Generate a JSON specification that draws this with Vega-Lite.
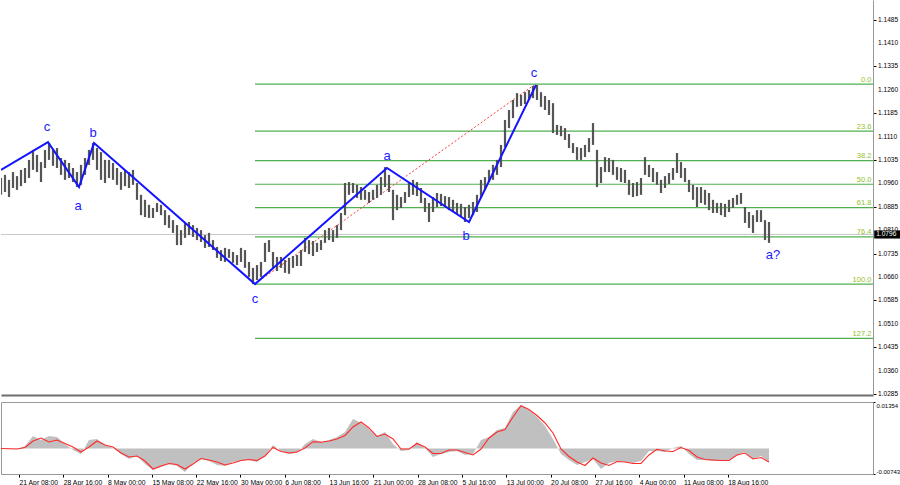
{
  "$schema": "https://vega.github.io/schema/vega-lite/v6.json",
  "padding": 0,
  "background": "white",
  "spacing": 3,
  "config": {
    "view": {"stroke": null},
    "font": "Liberation Sans",
    "axis": {"labelFont": "Liberation Sans", "labelFontSize": 6.8, "labelColor": "#000000", "grid": false, "tickColor": "#000000", "tickSize": 3, "domainColor": "#999999"}
  },
  "datasets": {
    "bars": [
      {"i":0,"h":1.0977,"l":1.0923},{"i":1,"h":1.0987,"l":1.0932},{"i":2,"h":1.0971,"l":1.0916},{"i":3,"h":1.0996,"l":1.0945},{"i":4,"h":1.0983,"l":1.0939},
      {"i":5,"h":1.1003,"l":1.0951},{"i":6,"h":1.1009,"l":1.0961},{"i":7,"h":1.1035,"l":1.0977},{"i":8,"h":1.1067,"l":1.1003},{"i":9,"h":1.1051,"l":1.0996},
      {"i":10,"h":1.1028,"l":1.0964},{"i":11,"h":1.1067,"l":1.1009},{"i":12,"h":1.1089,"l":1.1035},{"i":13,"h":1.1067,"l":1.1016},{"i":14,"h":1.1073,"l":1.1009},
      {"i":15,"h":1.1041,"l":1.0987},{"i":16,"h":1.1035,"l":1.0971},{"i":17,"h":1.1025,"l":1.0977},{"i":18,"h":1.1009,"l":1.0964},{"i":19,"h":1.0996,"l":1.0948},
      {"i":20,"h":1.1019,"l":1.0955},{"i":21,"h":1.1041,"l":1.0987},{"i":22,"h":1.1067,"l":1.1019},{"i":23,"h":1.1089,"l":1.1035},{"i":24,"h":1.1073,"l":1.1003},
      {"i":25,"h":1.1060,"l":1.0971},{"i":26,"h":1.1035,"l":1.0961},{"i":27,"h":1.1035,"l":1.0977},{"i":28,"h":1.1025,"l":1.0971},{"i":29,"h":1.1009,"l":1.0955},
      {"i":30,"h":1.0996,"l":1.0939},{"i":31,"h":1.1003,"l":1.0951},{"i":32,"h":1.0996,"l":1.0945},{"i":33,"h":1.1003,"l":1.0955},{"i":34,"h":1.0961,"l":1.0907},
      {"i":35,"h":1.0923,"l":1.0858},{"i":36,"h":1.0907,"l":1.0852},{"i":37,"h":1.0891,"l":1.0849},{"i":38,"h":1.0881,"l":1.0849},{"i":39,"h":1.0897,"l":1.0868},
      {"i":40,"h":1.0891,"l":1.0858},{"i":41,"h":1.0874,"l":1.0826},{"i":42,"h":1.0858,"l":1.0817},{"i":43,"h":1.0842,"l":1.0801},{"i":44,"h":1.0826,"l":1.0762},
      {"i":45,"h":1.0810,"l":1.0762},{"i":46,"h":1.0833,"l":1.0785},{"i":47,"h":1.0836,"l":1.0794},{"i":48,"h":1.0826,"l":1.0788},{"i":49,"h":1.0817,"l":1.0778},
      {"i":50,"h":1.0810,"l":1.0772},{"i":51,"h":1.0794,"l":1.0753},{"i":52,"h":1.0801,"l":1.0756},{"i":53,"h":1.0778,"l":1.0746},{"i":54,"h":1.0756,"l":1.0721},
      {"i":55,"h":1.0746,"l":1.0711},{"i":56,"h":1.0753,"l":1.0708},{"i":57,"h":1.0749,"l":1.0721},{"i":58,"h":1.0740,"l":1.0705},{"i":59,"h":1.0730,"l":1.0698},
      {"i":60,"h":1.0753,"l":1.0708},{"i":61,"h":1.0746,"l":1.0689},{"i":62,"h":1.0708,"l":1.0660},{"i":63,"h":1.0689,"l":1.0637},{"i":64,"h":1.0698,"l":1.0650},
      {"i":65,"h":1.0708,"l":1.0660},{"i":66,"h":1.0769,"l":1.0708},{"i":67,"h":1.0778,"l":1.0740},{"i":68,"h":1.0740,"l":1.0689},{"i":69,"h":1.0724,"l":1.0679},
      {"i":70,"h":1.0724,"l":1.0689},{"i":71,"h":1.0714,"l":1.0673},{"i":72,"h":1.0721,"l":1.0670},{"i":73,"h":1.0727,"l":1.0689},{"i":74,"h":1.0730,"l":1.0695},
      {"i":75,"h":1.0746,"l":1.0695},{"i":76,"h":1.0785,"l":1.0740},{"i":77,"h":1.0778,"l":1.0733},{"i":78,"h":1.0775,"l":1.0727},{"i":79,"h":1.0769,"l":1.0740},
      {"i":80,"h":1.0778,"l":1.0746},{"i":81,"h":1.0810,"l":1.0769},{"i":82,"h":1.0817,"l":1.0778},{"i":83,"h":1.0810,"l":1.0772},{"i":84,"h":1.0826,"l":1.0785},
      {"i":85,"h":1.0865,"l":1.0810},{"i":86,"h":1.0961,"l":1.0858},{"i":87,"h":1.0964,"l":1.0923},{"i":88,"h":1.0961,"l":1.0929},{"i":89,"h":1.0955,"l":1.0913},
      {"i":90,"h":1.0948,"l":1.0907},{"i":91,"h":1.0939,"l":1.0907},{"i":92,"h":1.0932,"l":1.0897},{"i":93,"h":1.0939,"l":1.0907},{"i":94,"h":1.0955,"l":1.0913},
      {"i":95,"h":1.0980,"l":1.0923},{"i":96,"h":1.1012,"l":1.0948},{"i":97,"h":1.0987,"l":1.0932},{"i":98,"h":1.0939,"l":1.0842},{"i":99,"h":1.0923,"l":1.0874},
      {"i":100,"h":1.0916,"l":1.0881},{"i":101,"h":1.0932,"l":1.0897},{"i":102,"h":1.0961,"l":1.0916},{"i":103,"h":1.0971,"l":1.0923},{"i":104,"h":1.0964,"l":1.0919},
      {"i":105,"h":1.0945,"l":1.0897},{"i":106,"h":1.0913,"l":1.0868},{"i":107,"h":1.0897,"l":1.0836},{"i":108,"h":1.0916,"l":1.0868},{"i":109,"h":1.0929,"l":1.0884},
      {"i":110,"h":1.0926,"l":1.0887},{"i":111,"h":1.0919,"l":1.0884},{"i":112,"h":1.0916,"l":1.0874},{"i":113,"h":1.0907,"l":1.0868},{"i":114,"h":1.0897,"l":1.0862},
      {"i":115,"h":1.0894,"l":1.0852},{"i":116,"h":1.0884,"l":1.0836},{"i":117,"h":1.0891,"l":1.0849},{"i":118,"h":1.0900,"l":1.0858},{"i":119,"h":1.0923,"l":1.0868},
      {"i":120,"h":1.0971,"l":1.0916},{"i":121,"h":1.0980,"l":1.0939},{"i":122,"h":1.1003,"l":1.0964},{"i":123,"h":1.1019,"l":1.0971},{"i":124,"h":1.1035,"l":1.0987},
      {"i":125,"h":1.1083,"l":1.1012},{"i":126,"h":1.1163,"l":1.1076},{"i":127,"h":1.1195,"l":1.1137},{"i":128,"h":1.1227,"l":1.1169},{"i":129,"h":1.1249,"l":1.1205},
      {"i":130,"h":1.1243,"l":1.1208},{"i":131,"h":1.1252,"l":1.1214},{"i":132,"h":1.1259,"l":1.1227},{"i":133,"h":1.1272,"l":1.1233},{"i":134,"h":1.1275,"l":1.1227},
      {"i":135,"h":1.1252,"l":1.1205},{"i":136,"h":1.1240,"l":1.1195},{"i":137,"h":1.1227,"l":1.1179},{"i":138,"h":1.1217,"l":1.1121},{"i":139,"h":1.1147,"l":1.1115},
      {"i":140,"h":1.1144,"l":1.1111},{"i":141,"h":1.1137,"l":1.1099},{"i":142,"h":1.1118,"l":1.1073},{"i":143,"h":1.1089,"l":1.1057},{"i":144,"h":1.1076,"l":1.1035},
      {"i":145,"h":1.1073,"l":1.1035},{"i":146,"h":1.1083,"l":1.1044},{"i":147,"h":1.1105,"l":1.1060},{"i":148,"h":1.1153,"l":1.1083},{"i":149,"h":1.1067,"l":1.0948},
      {"i":150,"h":1.1012,"l":1.0961},{"i":151,"h":1.1044,"l":1.0996},{"i":152,"h":1.1041,"l":1.0996},{"i":153,"h":1.1035,"l":1.0987},{"i":154,"h":1.1012,"l":1.0971},
      {"i":155,"h":1.1009,"l":1.0964},{"i":156,"h":1.1003,"l":1.0961},{"i":157,"h":1.0971,"l":1.0923},{"i":158,"h":1.0961,"l":1.0916},{"i":159,"h":1.0964,"l":1.0919},
      {"i":160,"h":1.0977,"l":1.0923},{"i":161,"h":1.1044,"l":1.0987},{"i":162,"h":1.1019,"l":1.0980},{"i":163,"h":1.1009,"l":1.0964},{"i":164,"h":1.0996,"l":1.0955},
      {"i":165,"h":1.0971,"l":1.0929},{"i":166,"h":1.0983,"l":1.0945},{"i":167,"h":1.0993,"l":1.0958},{"i":168,"h":1.1009,"l":1.0971},{"i":169,"h":1.1057,"l":1.0993},
      {"i":170,"h":1.1028,"l":1.0977},{"i":171,"h":1.1009,"l":1.0964},{"i":172,"h":1.0971,"l":1.0932},{"i":173,"h":1.0955,"l":1.0907},{"i":174,"h":1.0948,"l":1.0884},
      {"i":175,"h":1.0948,"l":1.0897},{"i":176,"h":1.0939,"l":1.0891},{"i":177,"h":1.0929,"l":1.0874},{"i":178,"h":1.0907,"l":1.0865},{"i":179,"h":1.0897,"l":1.0865},
      {"i":180,"h":1.0897,"l":1.0858},{"i":181,"h":1.0894,"l":1.0852},{"i":182,"h":1.0907,"l":1.0868},{"i":183,"h":1.0913,"l":1.0881},{"i":184,"h":1.0923,"l":1.0891},
      {"i":185,"h":1.0929,"l":1.0894},{"i":186,"h":1.0884,"l":1.0833},{"i":187,"h":1.0868,"l":1.0817},{"i":188,"h":1.0858,"l":1.0801},{"i":189,"h":1.0874,"l":1.0836},
      {"i":190,"h":1.0874,"l":1.0836},{"i":191,"h":1.0842,"l":1.0778},{"i":192,"h":1.0836,"l":1.0769}
    ],
    "macd": [
      {"i":0,"m":-0.00015,"s":0},{"i":2,"m":-0.00015,"s":-0.00009},{"i":4,"m":-0.00015,"s":-0.00015},{"i":6,"m":0.00073,"s":0.00029},
      {"i":8,"m":0.00364,"s":0.00218},{"i":10,"m":0.00248,"s":0.00306},{"i":12,"m":0.00364,"s":0.00189},{"i":14,"m":0.00335,"s":0.00248},
      {"i":16,"m":0.00131,"s":0.00146},{"i":18,"m":-0.00044,"s":0.00044},{"i":20,"m":-0.0016,"s":-0.00102},{"i":22,"m":0.00248,"s":0.00044},
      {"i":24,"m":0.00277,"s":0.00218},{"i":26,"m":0.00102,"s":0.00102},{"i":28,"m":0.00015,"s":0.00044},{"i":30,"m":-0.0016,"s":-0.00131},
      {"i":32,"m":-0.00306,"s":-0.00248},{"i":34,"m":-0.00218,"s":-0.00218},{"i":36,"m":-0.00452,"s":-0.00364},{"i":38,"m":-0.00626,"s":-0.00597},
      {"i":40,"m":-0.00539,"s":-0.0051},{"i":42,"m":-0.00452,"s":-0.00437},{"i":44,"m":-0.0051,"s":-0.00466},{"i":46,"m":-0.00685,"s":-0.00597},
      {"i":48,"m":-0.00422,"s":-0.00452},{"i":50,"m":-0.00306,"s":-0.00291},{"i":52,"m":-0.00364,"s":-0.00335},{"i":54,"m":-0.00481,"s":-0.00393},
      {"i":56,"m":-0.0051,"s":-0.00481},{"i":58,"m":-0.00393,"s":-0.00422},{"i":60,"m":-0.00364,"s":-0.0035},{"i":62,"m":-0.00335,"s":-0.0032},
      {"i":64,"m":-0.00393,"s":-0.0035},{"i":66,"m":-0.00218,"s":-0.00218},{"i":68,"m":0.00102,"s":0.00029},{"i":70,"m":-0.00073,"s":-0.00087},
      {"i":72,"m":-0.0016,"s":-0.00131},{"i":74,"m":-0.00131,"s":-0.00102},{"i":76,"m":0.00131,"s":0.00015},{"i":78,"m":0.00277,"s":0.00198},
      {"i":80,"m":0.00189,"s":0.00184},{"i":82,"m":0.00248,"s":0.00218},{"i":84,"m":0.00335,"s":0.00277},{"i":86,"m":0.00481,"s":0.00379},
      {"i":88,"m":0.00859,"s":0.00626},{"i":90,"m":0.00743,"s":0.00772},{"i":92,"m":0.00568,"s":0.00597},{"i":94,"m":0.00364,"s":0.0035},
      {"i":96,"m":0.00481,"s":0.00422},{"i":98,"m":0.00131,"s":0.00277},{"i":100,"m":-0.00073,"s":-0.00015},{"i":102,"m":-0.00044,"s":-0.00015},
      {"i":104,"m":0.00189,"s":0.00146},{"i":106,"m":0.00015,"s":0.00044},{"i":108,"m":-0.00248,"s":-0.00146},{"i":110,"m":-0.0016,"s":-0.00146},
      {"i":112,"m":-0.00102,"s":-0.00044},{"i":114,"m":-0.00073,"s":-0.00044},{"i":116,"m":-0.00189,"s":-0.00117},{"i":118,"m":-0.0016,"s":-0.00189},
      {"i":120,"m":0.00248,"s":-0.00015},{"i":122,"m":0.00335,"s":0.00306},{"i":124,"m":0.00539,"s":0.00481},{"i":126,"m":0.00597,"s":0.00553},
      {"i":128,"m":0.01063,"s":0.00918},{"i":130,"m":0.01267,"s":0.01247},{"i":132,"m":0.01122,"s":0.01136},{"i":134,"m":0.00918,"s":0.00961},
      {"i":136,"m":0.00655,"s":0.00743},{"i":138,"m":0.00277,"s":0.00452},{"i":140,"m":-0.0016,"s":-0.00015},{"i":142,"m":-0.00335,"s":-0.00233},
      {"i":144,"m":-0.00481,"s":-0.00393},{"i":146,"m":-0.00393,"s":-0.00495},{"i":148,"m":-0.00306,"s":-0.00277},{"i":150,"m":-0.00597,"s":-0.00422},
      {"i":152,"m":-0.00422,"s":-0.00495},{"i":154,"m":-0.00364,"s":-0.00379},{"i":156,"m":-0.00393,"s":-0.00393},{"i":158,"m":-0.00422,"s":-0.00437},
      {"i":160,"m":-0.00364,"s":-0.00437},{"i":162,"m":-0.00073,"s":-0.00189},{"i":164,"m":-0.00073,"s":-0.00023},{"i":166,"m":-0.00102,"s":-0.00073},
      {"i":168,"m":0.00015,"s":-0.00087},{"i":170,"m":0.00073,"s":0.00029},{"i":172,"m":-0.0016,"s":-0.00058},{"i":174,"m":-0.00335,"s":-0.00248},
      {"i":176,"m":-0.00335,"s":-0.0032},{"i":178,"m":-0.00364,"s":-0.00335},{"i":180,"m":-0.00364,"s":-0.0035},{"i":182,"m":-0.00335,"s":-0.0035},
      {"i":184,"m":-0.00189,"s":-0.00189},{"i":186,"m":-0.00102,"s":-0.00131},{"i":188,"m":-0.00306,"s":-0.00306},{"i":190,"m":-0.00218,"s":-0.00262},
      {"i":192,"m":-0.00393,"s":-0.00393}
    ],
    "waves": [
      {"k":0,"i":0,"p":1.1003},{"k":1,"i":11.75,"p":1.1092},{"k":2,"i":19.5,"p":1.0948},{"k":3,"i":23.25,"p":1.1089},
      {"k":4,"i":63.5,"p":1.0637},{"k":5,"i":96.5,"p":1.1009},{"k":6,"i":117,"p":1.0836},{"k":7,"i":133.75,"p":1.1275}
    ],
    "trend": [{"k":0,"i":63.75,"p":1.064},{"k":1,"i":133.25,"p":1.1275}],
    "wavelabels": [
      {"t":"c","i":11.5,"p":1.114},{"t":"a","i":19.25,"p":1.0887},{"t":"b","i":23,"p":1.1121},{"t":"c","i":63.5,"p":1.0589},
      {"t":"a","i":96.5,"p":1.1047},{"t":"b","i":116.25,"p":1.0791},{"t":"c","i":133.25,"p":1.1314},{"t":"a?","i":193,"p":1.073}
    ],
    "fib": [
      {"lvl":"0.0","p":1.1278},{"lvl":"23.6","p":1.1127},{"lvl":"38.2","p":1.1033},{"lvl":"50.0","p":1.0957},
      {"lvl":"61.8","p":1.0882},{"lvl":"76.4","p":1.0788},{"lvl":"100.0","p":1.0637},{"lvl":"127.2","p":1.0463}
    ],
    "yticks": [
      {"v":1.0285},{"v":1.0360},{"v":1.0435},{"v":1.0510},{"v":1.0585},{"v":1.0660},{"v":1.0735},{"v":1.0810},{"v":1.0885},
      {"v":1.0960},{"v":1.1035},{"v":1.1110},{"v":1.1185},{"v":1.1260},{"v":1.1335},{"v":1.1410},{"v":1.1485}
    ],
    "last": [{"p":1.0796}]
  },
  "vconcat": [
    {
      "width": 872,
      "height": 395,
      "layer": [
        {
          "data": {"name": "fib"},
          "mark": {"type": "rule", "color": "#4fb04f", "strokeWidth": 1.2},
          "encoding": {
            "x": {"datum": 63.5, "type": "quantitative", "scale": {"domain": [0, 218], "nice": false, "zero": false}, "axis": {"title": null, "labels": false, "ticks": false, "domain": true, "domainColor": "#6e6e6e", "domainWidth": 2}},
            "x2": {"datum": 218},
            "y": {"field": "p", "type": "quantitative", "scale": {"domain": [1.02815, 1.15475], "nice": false, "zero": false},
              "axis": {"title": null, "orient": "right", "values": [1.0285,1.036,1.0435,1.051,1.0585,1.066,1.0735,1.081,1.0885,1.096,1.1035,1.111,1.1185,1.126,1.1335,1.141,1.1485], "labels": false, "ticks": true, "tickSize": 3, "domainColor": "#999999"}}
          }
        },
        {
          "data": {"name": "yticks"},
          "mark": {"type": "text", "color": "#000000", "fontSize": 6.6, "align": "left", "baseline": "middle"},
          "encoding": {
            "x": {"datum": 219.25, "type": "quantitative"},
            "y": {"field": "v", "type": "quantitative"},
            "text": {"field": "v", "type": "quantitative", "format": ".4f"}
          }
        },
        {
          "data": {"name": "fib"},
          "mark": {"type": "text", "color": "#93c01f", "fontSize": 7.5, "align": "right", "baseline": "bottom", "dy": -0.5},
          "encoding": {
            "x": {"datum": 217.6, "type": "quantitative"},
            "y": {"field": "p", "type": "quantitative"},
            "text": {"field": "lvl"}
          }
        },
        {
          "data": {"name": "last"},
          "mark": {"type": "rule", "color": "#c8c8c8", "strokeWidth": 1},
          "encoding": {"y": {"field": "p", "type": "quantitative"}}
        },
        {
          "data": {"name": "trend"},
          "mark": {"type": "line", "color": "#ff3c3c", "strokeWidth": 1, "strokeDash": [2, 2], "clip": true},
          "encoding": {
            "x": {"field": "i", "type": "quantitative"},
            "y": {"field": "p", "type": "quantitative"},
            "order": {"field": "k"}
          }
        },
        {
          "data": {"name": "bars"},
          "mark": {"type": "rule", "color": "#555555", "strokeWidth": 2.2, "clip": true},
          "encoding": {
            "x": {"field": "i", "type": "quantitative"},
            "y": {"field": "h", "type": "quantitative"},
            "y2": {"field": "l"}
          }
        },
        {
          "data": {"name": "waves"},
          "mark": {"type": "line", "color": "#1414ff", "strokeWidth": 2, "clip": true},
          "encoding": {
            "x": {"field": "i", "type": "quantitative"},
            "y": {"field": "p", "type": "quantitative"},
            "order": {"field": "k"}
          }
        },
        {
          "data": {"name": "wavelabels"},
          "mark": {"type": "text", "color": "#1c1cff", "fontSize": 13, "font": "Liberation Sans", "baseline": "middle", "align": "center"},
          "encoding": {
            "x": {"field": "i", "type": "quantitative"},
            "y": {"field": "p", "type": "quantitative"},
            "text": {"field": "t"}
          }
        },
        {
          "data": {"name": "last"},
          "mark": {"type": "rect", "color": "#000000"},
          "encoding": {
            "x": {"datum": 218.3, "type": "quantitative"},
            "x2": {"datum": 225},
            "y": {"datum": 1.0809, "type": "quantitative"},
            "y2": {"datum": 1.0783}
          }
        },
        {
          "data": {"name": "last"},
          "mark": {"type": "text", "color": "#ffffff", "fontSize": 6.6, "align": "left", "baseline": "middle"},
          "encoding": {
            "x": {"datum": 218.8, "type": "quantitative"},
            "y": {"field": "p", "type": "quantitative"},
            "text": {"field": "p", "type": "quantitative", "format": ".4f"}
          }
        }
      ]
    },
    {
      "width": 872,
      "height": 72,
      "view": {"stroke": "#9a9a9a"},
      "data": {"name": "macd"},
      "layer": [
        {
          "mark": {"type": "area", "color": "#c0c0c0", "opacity": 1, "clip": true},
          "encoding": {
            "x": {"field": "i", "type": "quantitative", "scale": {"domain": [0, 218], "nice": false, "zero": false},
              "axis": {"title": null, "values": [4.5,15.575,26.65,37.725,48.8,59.875,70.95,82.025,93.1,104.175,115.25,126.325,137.4,148.475,159.55,170.625,181.7],
                "labelExpr": "['21 Apr 08:00','28 Apr 16:00','8 May 00:00','15 May 08:00','22 May 16:00','30 May 00:00','6 Jun 08:00','13 Jun 16:00','21 Jun 00:00','28 Jun 08:00','5 Jul 16:00','13 Jul 00:00','20 Jul 08:00','27 Jul 16:00','4 Aug 00:00','11 Aug 08:00','18 Aug 16:00'][round((datum.value-4.5)/11.075)]",
                "labelAlign": "left", "labelPadding": 2, "tickSize": 3}},
            "y": {"field": "m", "type": "quantitative", "scale": {"domain": [-0.00743, 0.01354], "nice": false, "zero": false},
              "axis": {"title": null, "orient": "right", "values": [-0.00743, 0, 0.01354], "labelFlush": true, "labelPadding": 1, "tickSize": 2, "labelFontSize": 6,
                "labelExpr": "datum.value > 0.01 ? '0.01354' : (datum.value < -0.005 ? '-0.00743' : '0.00')"}},
            "y2": {"datum": 0}
          }
        },
        {
          "mark": {"type": "line", "color": "#ff2a2a", "strokeWidth": 1.1, "clip": true},
          "encoding": {
            "x": {"field": "i", "type": "quantitative"},
            "y": {"field": "s", "type": "quantitative"}
          }
        }
      ]
    }
  ]
}
